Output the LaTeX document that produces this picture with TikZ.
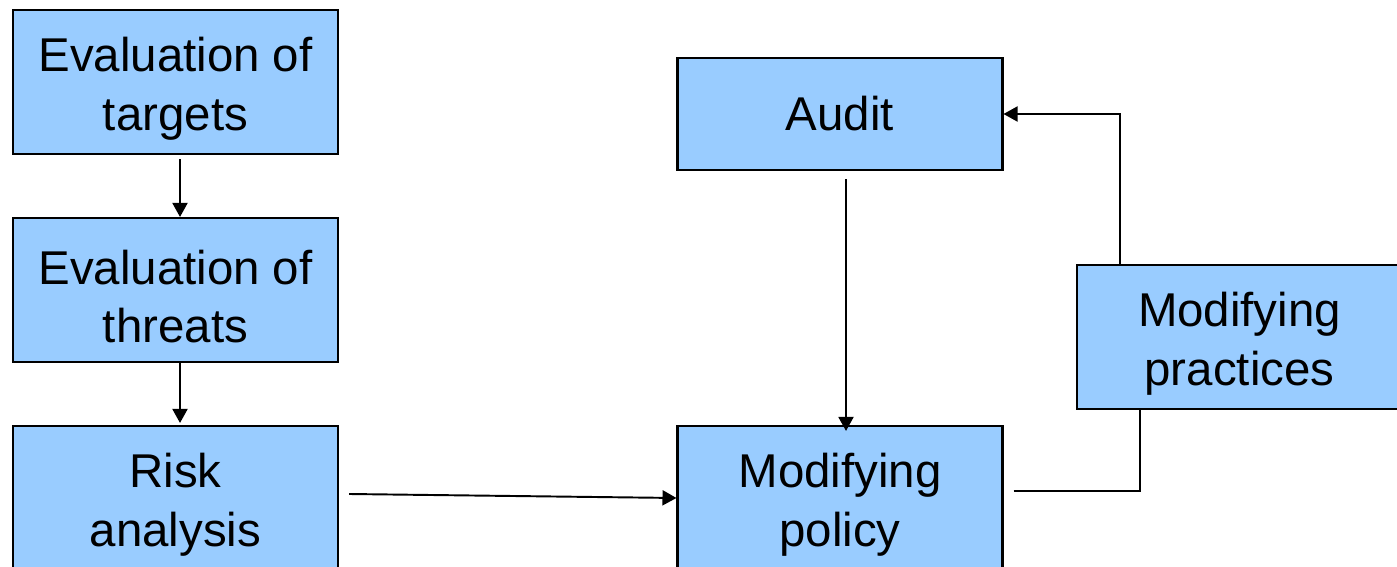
\documentclass[tikz,border=0pt]{standalone}
\usepackage{fontspec}
\setmainfont{Liberation Sans}
\usepackage{tikz}
\usetikzlibrary{arrows.meta}
\usetikzlibrary{calc}
\definecolor{boxblue}{HTML}{99CCFF}
\tikzset{
  stagebox/.style={
    draw=black, line width=1.2pt, fill=boxblue,
    minimum width=6.5cm, minimum height=2.88cm,
    align=center, inner sep=0pt,
    font=\fontsize{27}{33.5}\selectfont
  },
  flowarrow/.style={
    line width=1.1pt,
    -{Triangle[length=0.28cm,width=0.3cm]}
  },
  flowline/.style={
    line width=1.1pt
  },
}

\begin{document}
\begin{tikzpicture}[x=0.02cm,y=-0.02cm]
\useasboundingbox (0,0) rectangle (1397,567);

%%%%%%%%%%%%%%%%%%%%%%%%%%%%%%%%%%%%%%%%%%%%%%%%%%%%%%%%%%%%%% left column
\node[stagebox] (targets) at (175.5,82) {\rule{0pt}{0.95cm}Evaluation of\\targets};
\node[stagebox] (threats) at (175.5,290) {\rule{0pt}{0.95cm}Evaluation of\\threats};
\node[stagebox] (risk) at (175.5,498) {\rule{0pt}{0.95cm}Risk\\analysis};

%%%%%%%%%%%%%%%%%%%%%%%%%%%%%%%%%%%%%%%%%%%%%%%%%%%%%%%%%%%%%% right part
\node[stagebox, minimum height=2.24cm] (audit) at (840,114) {Audit};
\node[stagebox] (policy) at (840,498) {\rule{0pt}{0.95cm}Modifying\\policy};
\node[stagebox, minimum width=6.7cm] (practices) at (1244.5,337) {\rule{0pt}{0.95cm}Modifying\hspace*{0.2cm}\\practices\hspace*{0.2cm}};

%%%%%%%%%%%%%%%%%%%%%%%%%%%%%%%%%%%%%%%%%%%%%%%%%%%%%%%%%%%%%% connectors
\draw[flowarrow] ($(targets.south)+(4.5,4)$) -- ($(threats.north)+(4.5,0)$);
\draw[flowarrow] ($(threats.south)+(4.5,0)$) -- ($(risk.north)+(4.5,-2)$);
\draw[flowarrow] ($(risk.east)+(10,-4)$) -- (policy.west);
\draw[flowarrow] ($(audit.south)+(6,8)$) -- ($(policy.north)+(6,6)$);
\draw[flowline] ($(policy.east)+(10,-7)$) -| ($(practices.south)+(-104.5,0)$);
\draw[flowarrow] ($(practices.north)+(-124.5,0)$) |- (audit.east);

\end{tikzpicture}
\end{document}
